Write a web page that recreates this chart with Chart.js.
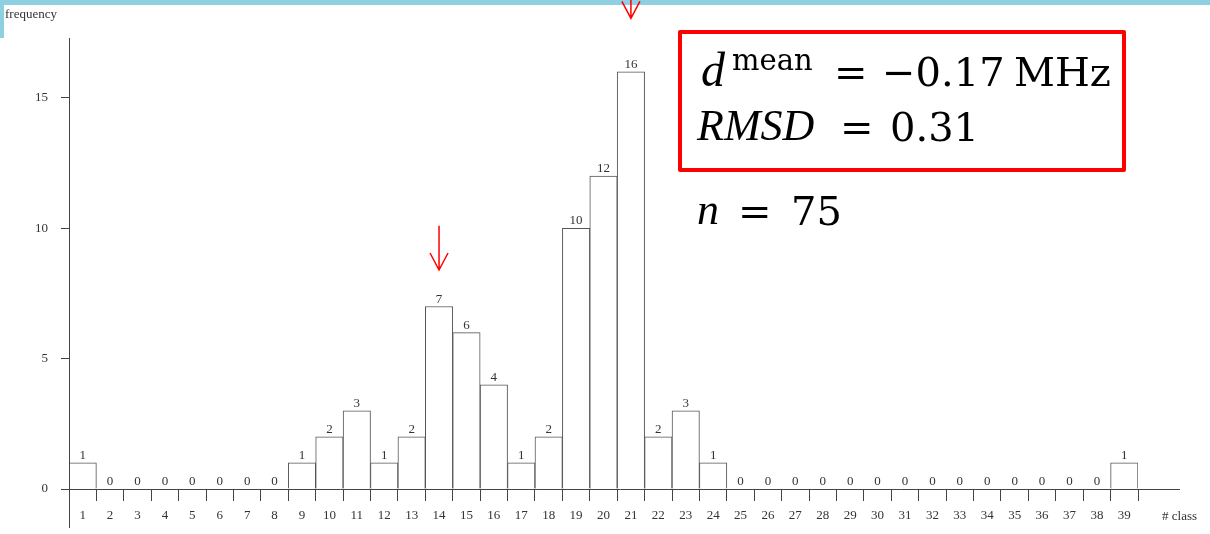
<!DOCTYPE html>
<html lang="en">
<head>
  <meta charset="UTF-8" />
  <title>Histogram of classes</title>
  <script src="https://cdn.jsdelivr.net/npm/chart.js"></script>
  <style>
    * { margin: 0; padding: 0; box-sizing: border-box; }
    body { width: 1210px; height: 534px; background: #fff; position: relative; overflow: hidden; }
    #wrap { position: absolute; left: 0; top: 0; width: 1210px; height: 534px; }
    .band { position: absolute; left: 0; top: 0; width: 1210px; height: 5px; background: #8fcfe2; }
    .band-left { position: absolute; left: 0; top: 0; width: 4px; height: 38px; background: #8fcfe2; }
    .lbl { position: absolute; font-family: 'Liberation Serif', serif; font-size: 13px; color: #333; background: #fff; }
    .box {
      position: absolute; left: 678px; top: 30px; width: 448px; height: 142px;
      border: 4px solid #ff0000; border-radius: 2px;
    }
    .m { position: absolute; color: #000; white-space: nowrap; }
    .it { font-family: 'Liberation Serif', serif; font-style: italic; font-size: 44px; line-height: 44px; }
    .up { font-family: 'DejaVu Serif', serif; font-size: 40px; line-height: 40px; }
    .sp { font-family: 'DejaVu Serif', serif; font-size: 29px; line-height: 29px; }
  </style>
</head>
<body>
  <div class="band"></div>
  <div class="band-left"></div>
  <div id="wrap"><canvas id="hist" width="1210" height="534"></canvas></div>
  <div class="lbl" style="left:5px; top:6px;">frequency</div>
  <div class="lbl" style="left:1162px; top:508px; background:none;"># class</div>
  <div class="box"></div>

  <span class="m it" style="left:701px; top:46px; font-size:48px; line-height:48px;">d</span>
  <span class="m sp" style="left:732px; top:46px;">mean</span>
  <span class="m up" style="left:834px; top:52px;">=</span>
  <span class="m up" style="left:882px; top:52px;">−0.17</span>
  <span class="m up" style="left:1014px; top:52px;">MHz</span>

  <span class="m it" style="left:697px; top:104px;">RMSD</span>
  <span class="m up" style="left:840px; top:107px;">=</span>
  <span class="m up" style="left:890px; top:107px;">0.31</span>

  <span class="m it" style="left:697px; top:188px;">n</span>
  <span class="m up" style="left:738px; top:191px;">=</span>
  <span class="m up" style="left:791px; top:191px;">75</span>

  <script>
    const classes = ['1', '2', '3', '4', '5', '6', '7', '8', '9', '10', '11', '12', '13',
      '14', '15', '16', '17', '18', '19', '20', '21', '22', '23', '24', '25', '26',
      '27', '28', '29', '30', '31', '32', '33', '34', '35', '36', '37', '38', '39'];
    const frequency = [1, 0, 0, 0, 0, 0, 0, 0, 1, 2, 3, 1, 2, 7, 6, 4, 1, 2, 10, 12, 16, 2, 3, 1,
      0, 0, 0, 0, 0, 0, 0, 0, 0, 0, 0, 0, 0, 0, 1];
    const yTicks = [0, 5, 10, 15];
    // red arrows: class, start value, tip value
    const arrowClasses = ['14', '21'];
    const arrowFrom = [10.1, 18.8];
    const arrowTo = [8.4, 18.05];

    const axisColor = '#444';

    // value labels, axis lines and arrows
    const extras = {
      id: 'extras',
      afterDraw(chart) {
        const ctx = chart.ctx;
        const x = chart.scales.x;
        const y = chart.scales.y;
        const meta = chart.getDatasetMeta(0);
        const y0 = y.getPixelForValue(0);

        ctx.save();
        ctx.strokeStyle = axisColor;
        ctx.lineWidth = 1;
        ctx.beginPath();
        ctx.moveTo(x.left - 8, y0 + 0.5);
        ctx.lineTo(x.right + 42, y0 + 0.5);
        ctx.moveTo(x.left + 0.5, y.top);
        ctx.lineTo(x.left + 0.5, y0 + 39);
        ctx.stroke();

        ctx.fillStyle = '#333';
        ctx.font = '13px "Liberation Serif", serif';
        ctx.textAlign = 'center';
        ctx.textBaseline = 'alphabetic';
        meta.data.forEach((bar, i) => {
          ctx.fillText(String(frequency[i]), bar.x, bar.y - 4);
        });

        ctx.strokeStyle = '#ff0000';
        ctx.lineWidth = 1.5;
        arrowClasses.forEach((c, i) => {
          const ax = x.getPixelForValue(classes.indexOf(c));
          const a = y.getPixelForValue(arrowFrom[i]);
          const b = y.getPixelForValue(arrowTo[i]);
          ctx.beginPath();
          ctx.moveTo(ax, a);
          ctx.lineTo(ax, b);
          ctx.moveTo(ax - 9, b - 17);
          ctx.lineTo(ax, b);
          ctx.lineTo(ax + 9, b - 17);
          ctx.stroke();
        });
        ctx.restore();
      }
    };

    const chart = new Chart(document.getElementById('hist'), {
      type: 'bar',
      data: {
        labels: classes,
        datasets: [{
          data: frequency,
          backgroundColor: '#ffffff',
          borderColor: '#555',
          borderWidth: 1,
          borderSkipped: 'start',
          barPercentage: 1,
          categoryPercentage: 1
        }]
      },
      options: {
        responsive: false,
        animation: false,
        layout: { padding: { top: 38, right: 72, left: 0, bottom: 0 } },
        plugins: { legend: { display: false }, tooltip: { enabled: false } },
        scales: {
          x: {
            border: { display: false },
            grid: { offset: true, drawOnChartArea: false, tickLength: 12, color: axisColor },
            ticks: {
              color: '#333', padding: 7, maxRotation: 0, autoSkip: false,
              font: { family: 'Liberation Serif', size: 13 }
            },
            afterFit: s => { s.height = 45; }
          },
          y: {
            min: 0,
            max: 17.3,
            border: { display: false },
            grid: { drawOnChartArea: false, tickLength: 8, color: axisColor },
            ticks: {
              color: '#333', padding: 13,
              font: { family: 'Liberation Serif', size: 13 }
            },
            afterBuildTicks: s => { s.ticks = yTicks.map(v => ({ value: v })); },
            afterFit: s => { s.width = 69; }
          }
        }
      },
      plugins: [extras]
    });
  </script>
</body>
</html>
